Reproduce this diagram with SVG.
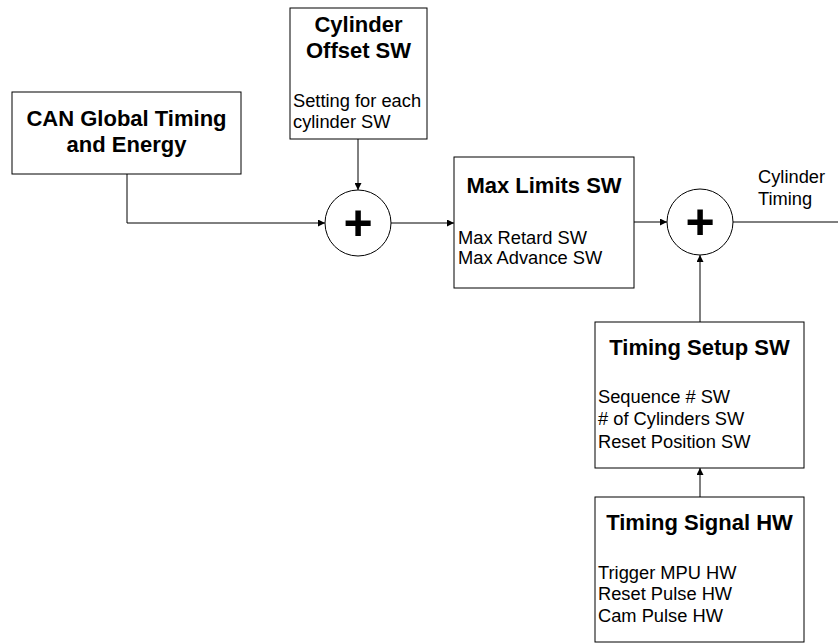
<svg xmlns="http://www.w3.org/2000/svg" width="838" height="643" viewBox="0 0 838 643">
<defs>
<style>
.box{fill:#fff;stroke:#000;stroke-width:1}
.sum{fill:#fff;stroke:#000;stroke-width:1}
.wire{fill:none;stroke:#000;stroke-width:1}
.t{font-family:"Liberation Sans",Arial,sans-serif;fill:#000}
.b{font-weight:bold;font-size:22px;text-anchor:middle}
.n{font-size:18.3px}
.plus{font-family:"Liberation Sans",Arial,sans-serif;font-weight:bold;font-size:50px;text-anchor:middle}
</style>
<marker id="arr" viewBox="0 0 10 10" refX="10" refY="5" markerWidth="9" markerHeight="7" markerUnits="userSpaceOnUse" orient="auto">
<path d="M0,0 L10,5 L0,10 z" fill="#000"/>
</marker>
</defs>
<rect width="838" height="643" fill="#fff"/>
<g id="connectors">
<path class="wire" d="M127,174 V223 H325" marker-end="url(#arr)"/>
<path class="wire" d="M358,139 V190" marker-end="url(#arr)"/>
<path class="wire" d="M391,223 H454" marker-end="url(#arr)"/>
<path class="wire" d="M634,222 H667" marker-end="url(#arr)"/>
<path class="wire" d="M733,222 H846" marker-end="url(#arr)"/>
<path class="wire" d="M700,322 V255" marker-end="url(#arr)"/>
<path class="wire" d="M700,497 V468" marker-end="url(#arr)"/>
</g>
<g id="can">
<rect class="box" x="12" y="92" width="229" height="82"/>
<text class="t b" x="126.5" y="126">CAN Global Timing</text>
<text class="t b" x="126.5" y="152">and Energy</text>
</g>
<g id="offset">
<rect class="box" x="290" y="8" width="137" height="131"/>
<text class="t b" x="358.5" y="32">Cylinder</text>
<text class="t b" x="358.5" y="58">Offset SW</text>
<text class="t n" x="293" y="107">Setting for each</text>
<text class="t n" x="293" y="128">cylinder SW</text>
</g>
<g id="sum1">
<circle class="sum" cx="358" cy="223" r="33"/>
<text class="plus" x="358" y="240">+</text>
</g>
<g id="maxlimits">
<rect class="box" x="454" y="157" width="180" height="131"/>
<text class="t b" x="544" y="193">Max Limits SW</text>
<text class="t n" x="458" y="244">Max Retard SW</text>
<text class="t n" x="458" y="264">Max Advance SW</text>
</g>
<g id="sum2">
<circle class="sum" cx="700" cy="222" r="33"/>
<text class="plus" x="700" y="239">+</text>
</g>
<g id="output-label">
<text class="t n" x="758" y="183">Cylinder</text>
<text class="t n" x="758" y="205">Timing</text>
</g>
<g id="timingsetup">
<rect class="box" x="595" y="322" width="209" height="146"/>
<text class="t b" x="699.5" y="355">Timing Setup SW</text>
<text class="t n" x="598" y="403">Sequence # SW</text>
<text class="t n" x="598" y="425"># of Cylinders SW</text>
<text class="t n" x="598" y="448">Reset Position SW</text>
</g>
<g id="timingsignal">
<rect class="box" x="595" y="497" width="209" height="145"/>
<text class="t b" x="699.5" y="530">Timing Signal HW</text>
<text class="t n" x="598" y="579">Trigger MPU HW</text>
<text class="t n" x="598" y="600">Reset Pulse HW</text>
<text class="t n" x="598" y="622">Cam Pulse HW</text>
</g>
</svg>
